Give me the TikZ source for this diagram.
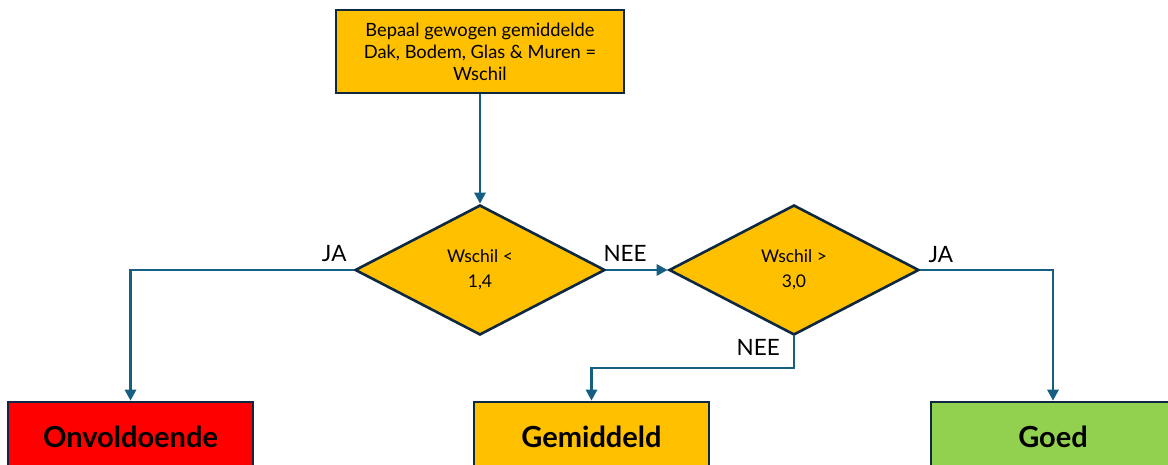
\documentclass[tikz,border=0pt]{standalone}
\usepackage{fontspec}
\setmainfont{Lato}
\usetikzlibrary{shapes.geometric,arrows.meta,positioning}

\definecolor{oranje}{HTML}{FFC000}
\definecolor{rood}{HTML}{FF0000}
\definecolor{groen}{HTML}{92D050}
\definecolor{rand}{HTML}{0E2841}
\definecolor{lijn}{HTML}{156082}

\tikzset{
  stap/.style={draw=rand, line width=2.6pt, fill=oranje, minimum width=288pt, minimum height=83pt, align=center, font=\fontsize{18.3}{22}\selectfont},
  keuze/.style={draw=rand, line width=2.6pt, fill=oranje, diamond, aspect=1.92, minimum width=250pt, minimum height=130pt, align=center, inner sep=0pt, font=\fontsize{17.5}{25}\selectfont},
  uitkomst/.style={draw=rand, line width=2.6pt, minimum height=70pt, font=\bfseries\fontsize{29}{32}\selectfont},
  pijl/.style={draw=lijn, line width=2.8pt, -{Triangle[length=11pt,width=11pt]}},
  lbl/.style={font=\fontsize{22.5}{24}\selectfont, inner sep=0pt},
}

\begin{document}
\begin{tikzpicture}[x=1pt, y=-1pt]
  \useasboundingbox (0,0) rectangle (1168,465);
  \clip (0,0) rectangle (1168,465);

  \node [stap] at (480,51.5) (start) {Bepaal gewogen gemiddelde\\Dak, Bodem, Glas \& Muren =\\Wschil};

  \node [keuze] at (480,270) (d1) {Wschil <\\1,4};
  \node [keuze] at (794,270) (d2) {Wschil >\\3,0};

  \node [uitkomst, fill=rood, minimum width=245pt] at (130.5,437) (onv) {Onvoldoende};
  \node [uitkomst, fill=oranje, minimum width=235pt] at (591.5,437) (gem) {Gemiddeld};
  \node [uitkomst, fill=groen, minimum width=244pt] at (1053,437) (goed) {Goed};

  \coordinate (knik) at (794,368);

  \draw [pijl] (start) -- (d1);
  \draw [pijl] (d1) -- (d2);
  \draw [pijl] (d1.west) -| (onv.north);
  \draw [pijl] (d2.east) -| (goed.north);
  \draw [pijl] (d2.south) -- (knik) -| (gem.north);

  \node [lbl, above left=8pt and 7pt of d1.west] (ja1) {JA};
  \node [lbl, above right=8pt and -3pt of d1.east] (nee1) {NEE};
  \node [lbl, above right=7pt and 8pt of d2.east] (ja2) {JA};
  \node [lbl, below left=3pt and 14pt of d2.south] (nee2) {NEE};

\end{tikzpicture}
\end{document}
